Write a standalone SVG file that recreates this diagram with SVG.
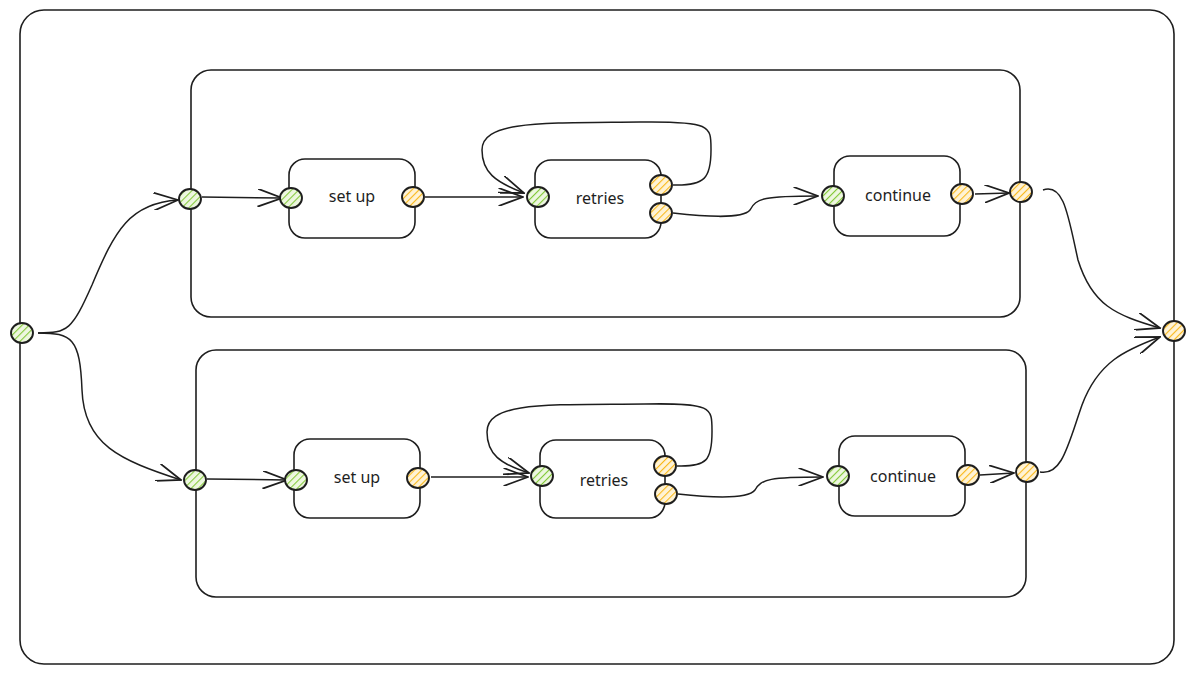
<svg xmlns="http://www.w3.org/2000/svg" width="1196" height="674" viewBox="0 0 1196 674">
<style>
.frame{fill:none;stroke:#1e1e1e;stroke-width:1.6}
.box{fill:#fff;stroke:#1e1e1e;stroke-width:1.6}
.pg{fill:url(#hg);stroke:#1e1e1e;stroke-width:1.9}
.po{fill:url(#ho);stroke:#1e1e1e;stroke-width:1.9}
.lbl{font-family:"Noto Sans","Liberation Sans",sans-serif;font-size:16px;fill:#1e1e1e;text-anchor:middle;dominant-baseline:central}
.c{fill:none;stroke:#1e1e1e;stroke-width:1.5}
.a{marker-end:url(#arr)}
</style>
<defs>
<pattern id="hg" width="5" height="5" patternUnits="userSpaceOnUse" patternTransform="rotate(45)">
<rect width="5" height="5" fill="#eef7e0"/>
<line x1="0" y1="0" x2="0" y2="5" stroke="#84c93a" stroke-width="2.2"/>
</pattern>
<pattern id="ho" width="5" height="5" patternUnits="userSpaceOnUse" patternTransform="rotate(45)">
<rect width="5" height="5" fill="#fff3d6"/>
<line x1="0" y1="0" x2="0" y2="5" stroke="#f9b81a" stroke-width="2.2"/>
</pattern>
<marker id="arr" viewBox="0 0 20 14" refX="19" refY="7" markerWidth="26" markerHeight="18" markerUnits="userSpaceOnUse" orient="auto">
<path d="M0,0 L19,7 L0,14" fill="none" stroke="#1e1e1e" stroke-width="1.4"/>
</marker>
</defs>
<rect x="0" y="0" width="1196" height="674" fill="#fff"/>

<g id="outer">
<rect class="frame" x="20" y="10" width="1154" height="654" rx="24"/>
</g>
<g id="group-top">
<rect class="frame" x="191" y="70" width="829" height="247" rx="20"/>
</g>
<g id="group-bottom">
<rect class="frame" x="196" y="350" width="830" height="247" rx="20"/>
</g>

<g id="connectors">
<path class="c a" d="M38,333 C 68,333 72,330 92,285 C 115,230 130,203 178,200"/>
<path class="c a" d="M38,333 C 72,333 80,338 82,390 C 84,445 120,460 181,480"/>
<path class="c a" d="M202,197 L282,198"/>
<path class="c a" d="M425,197 L523,197"/>
<path class="c a" d="M673,185 C 705,186 711,178 711,150 C 711,126 712,121 640,122 C 545,123 482,120 482,150 C 482,172 495,182 524,193"/>
<path class="c a" d="M673,213 C 700,216 742,220 750,210 C 756,198 765,196 818,196"/>
<path class="c a" d="M975,194 L1009,193"/>
<path class="c a" d="M1043,190 C 1064,183 1068,215 1078,260 C 1092,305 1115,315 1160,328"/>
<path class="c a" d="M207,479 L287,480"/>
<path class="c a" d="M431,477 L528,477"/>
<path class="c a" d="M677,466 C 707,467 712,460 712,432 C 712,407 713,403 645,404 C 550,405 487,401 487,432 C 487,454 500,464 529,473"/>
<path class="c a" d="M678,494 C 705,497 747,500 755,490 C 761,479 770,477 823,477"/>
<path class="c a" d="M980,475 L1014,473"/>
<path class="c a" d="M1040,472 C 1062,476 1068,445 1082,405 C 1098,362 1125,350 1160,337"/>
</g>

<g id="port-in"><ellipse class="pg" cx="22" cy="333" rx="11" ry="10"/></g>
<g id="port-out"><ellipse class="po" cx="1174" cy="331" rx="11" ry="10"/></g>

<g id="top-in"><ellipse class="pg" cx="190" cy="199" rx="11" ry="10"/></g>
<g id="top-setup">
<rect class="box" x="289" y="159" width="126" height="79" rx="16"/>
<ellipse class="pg" cx="291" cy="198" rx="11" ry="10"/>
<ellipse class="po" cx="413" cy="197" rx="11" ry="10"/>
<text class="lbl" x="352" y="196">set up</text>
</g>
<g id="top-retries">
<rect class="box" x="535" y="160" width="126" height="78" rx="16"/>
<ellipse class="pg" cx="538" cy="197" rx="11" ry="10"/>
<ellipse class="po" cx="661" cy="185" rx="11" ry="10"/>
<ellipse class="po" cx="661" cy="213" rx="11" ry="10"/>
<text class="lbl" x="600" y="198">retries</text>
</g>
<g id="top-continue">
<rect class="box" x="834" y="156" width="126" height="80" rx="16"/>
<ellipse class="pg" cx="833" cy="196" rx="11" ry="10"/>
<ellipse class="po" cx="962" cy="194" rx="11" ry="10"/>
<text class="lbl" x="898" y="195">continue</text>
</g>
<g id="top-out"><ellipse class="po" cx="1021" cy="192" rx="11" ry="10"/></g>

<g id="bottom-in"><ellipse class="pg" cx="195" cy="480" rx="11" ry="10"/></g>
<g id="bottom-setup">
<rect class="box" x="294" y="439" width="126" height="79" rx="16"/>
<ellipse class="pg" cx="296" cy="480" rx="11" ry="10"/>
<ellipse class="po" cx="418" cy="478" rx="11" ry="10"/>
<text class="lbl" x="357" y="477">set up</text>
</g>
<g id="bottom-retries">
<rect class="box" x="540" y="440" width="125" height="78" rx="16"/>
<ellipse class="pg" cx="542" cy="476" rx="11" ry="10"/>
<ellipse class="po" cx="665" cy="466" rx="11" ry="10"/>
<ellipse class="po" cx="666" cy="494" rx="11" ry="10"/>
<text class="lbl" x="604" y="480">retries</text>
</g>
<g id="bottom-continue">
<rect class="box" x="839" y="436" width="126" height="80" rx="16"/>
<ellipse class="pg" cx="838" cy="476" rx="11" ry="10"/>
<ellipse class="po" cx="968" cy="475" rx="11" ry="10"/>
<text class="lbl" x="903" y="476">continue</text>
</g>
<g id="bottom-out"><ellipse class="po" cx="1027" cy="472" rx="11" ry="10"/></g>
</svg>
